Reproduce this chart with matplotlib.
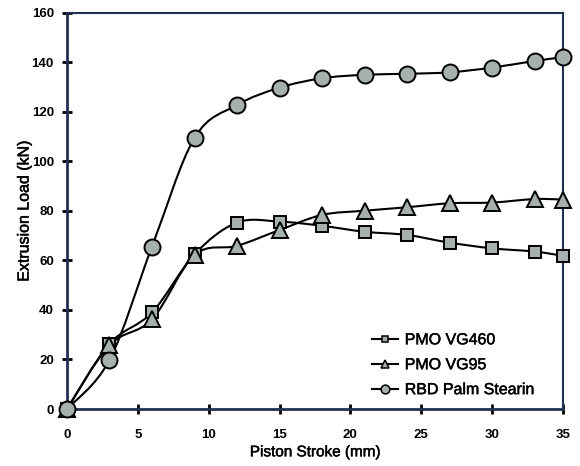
"""Extrusion load vs piston stroke for three lubricants."""

import matplotlib

matplotlib.use("Agg")
import matplotlib.patheffects as pe
import matplotlib.pyplot as plt
import numpy as np
from matplotlib.patches import PathPatch
from matplotlib.path import Path

plt.rcParams["font.family"] = ["Liberation Sans", "DejaVu Sans"]

stroke = [0, 3, 6, 9, 12, 15, 18, 21, 24, 27, 30, 33, 35]
vg460 = [0, 26.3, 39, 62.5, 75.3, 75.7, 74, 71.6, 70.3, 67.2, 64.9, 63.6, 61.9]
vg95 = [0, 25.8, 36.2, 62.2, 65.9, 72.3, 78.4, 80.1, 81.5, 83.1, 83.4, 84.8, 84.6]
stearin = [0, 19.8, 65.6, 109.5, 122.8, 129.8, 133.6, 135.0, 135.4, 136.0, 137.9, 140.6, 142.1]

labels = ["PMO VG460", "PMO VG95", "RBD Palm Stearin"]
markers = ["s", "^", "o"]
marker_sizes = [9, 11, 11.5]

FILL = "#a6b0ae"
SPINE = "#1f3050"
HEAVY = [pe.withStroke(linewidth=0.35, foreground="black")]


def smooth_path(x, y):
    """Excel-style smoothed line: cubic Bezier segments through every point."""
    pts = np.column_stack([x, y]).astype(float)
    n = len(pts)
    verts = [pts[0]]
    codes = [Path.MOVETO]
    for i in range(n - 1):
        p0 = pts[i - 1] if i > 0 else pts[i]
        p1 = pts[i]
        p2 = pts[i + 1]
        p3 = pts[i + 2] if i + 2 < n else pts[i + 1]
        c1 = p1 + (p2 - p0) / 6.0
        c2 = p2 - (p3 - p1) / 6.0
        verts += [c1, c2, p2]
        codes += [Path.CURVE4] * 3
    return Path(verts, codes)


fig = plt.figure(figsize=(5.8, 4.66), dpi=100)
ax = fig.add_axes([0.1155, 0.1223, 0.855, 0.85])

for ys, lab, mk, ms in zip([vg460, vg95, stearin], labels, markers, marker_sizes):
    ax.add_patch(PathPatch(smooth_path(stroke, ys), facecolor="none",
                           edgecolor="black", lw=1.5, clip_on=False))
    ax.plot(stroke, ys, linestyle="none", marker=mk, markersize=ms,
            markerfacecolor=FILL, markeredgecolor="black", markeredgewidth=1.4,
            clip_on=False, zorder=3)
    # legend proxy
    ax.plot([], [], color="black", lw=1.5, marker=mk, markersize=ms * 0.55,
            markerfacecolor=FILL, markeredgecolor="black", markeredgewidth=1.1,
            label=lab)

ax.set_xlim(0, 35)
ax.set_ylim(0, 160)
ax.set_xticks(np.arange(0, 36, 5))
ax.set_yticks(np.arange(0, 161, 20))

for side in ["left", "bottom"]:
    ax.spines[side].set_color(SPINE)
    ax.spines[side].set_linewidth(2)
for side in ["top", "right"]:
    ax.spines[side].set_color(SPINE)
    ax.spines[side].set_linewidth(1.5)

ax.tick_params(axis="both", direction="inout", length=7, width=2,
               color="black", labelsize=9.5)
ax.tick_params(axis="x", pad=11)
ax.tick_params(axis="y", pad=6)
for lbl in ax.get_xticklabels() + ax.get_yticklabels():
    lbl.set_fontweight("bold")

ax.set_xlabel("Piston Stroke (mm)", fontsize=11, labelpad=3,
              path_effects=HEAVY)
ax.set_ylabel("Extrusion Load (kN)", fontsize=11.5, labelpad=0,
              path_effects=HEAVY)

leg = ax.legend(loc="lower left", bbox_to_anchor=(0.615, 0.03), frameon=False,
                fontsize=11.5, handlelength=1.6, handletextpad=0.45,
                labelspacing=0.62, borderpad=0, borderaxespad=0)
for txt in leg.get_texts():
    txt.set_path_effects(HEAVY)

fig.savefig("out.png", dpi=100)
